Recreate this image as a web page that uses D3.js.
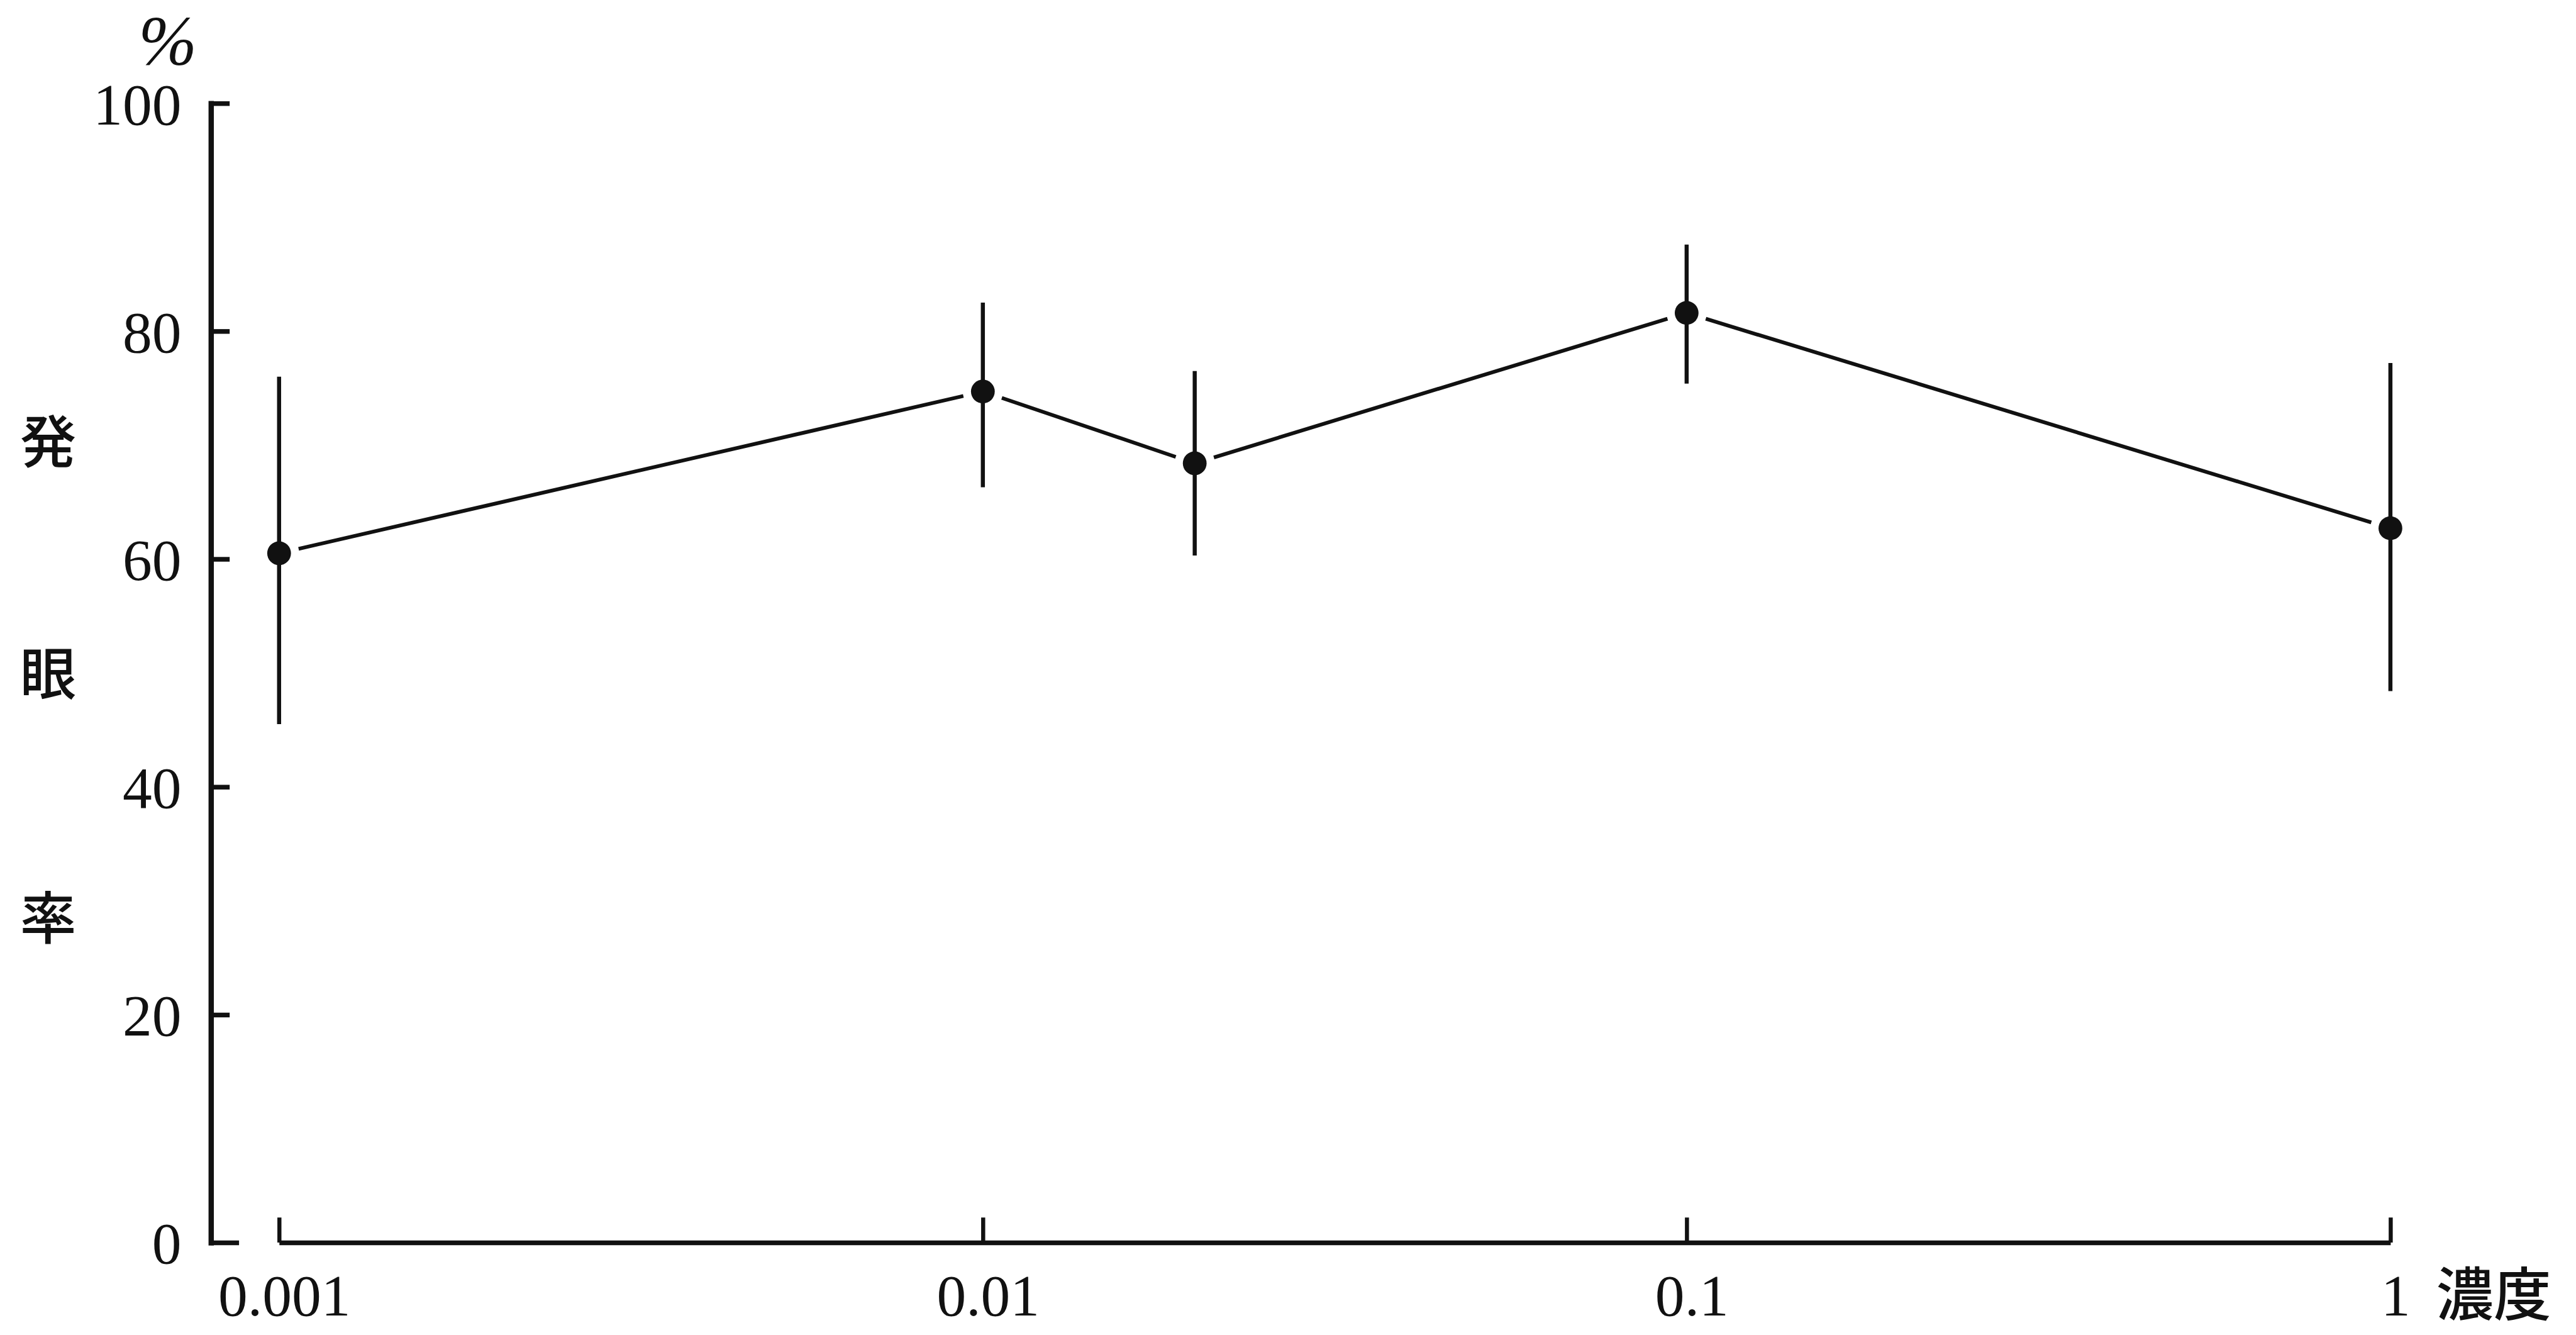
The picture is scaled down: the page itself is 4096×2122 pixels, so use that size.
<!DOCTYPE html>
<html>
<head>
<meta charset="utf-8">
<script src="https://cdn.jsdelivr.net/npm/d3@7"></script>
<style>
  html, body { margin: 0; padding: 0; background: #ffffff; }
  svg { display: block; }
</style>
</head>
<body>
<script>
// ---- Data ----
const concentrations = [0.001, 0.01, 0.02, 0.1, 1];
const rateMean = [60.5, 74.7, 68.4, 81.6, 62.7];
const rateHigh = [76.0, 82.5, 76.5, 87.6, 77.2];
const rateLow  = [45.5, 66.3, 60.3, 75.4, 48.4];

const xTickValues = [0.001, 0.01, 0.1, 1];
const xTickLabels = ["0.001", "0.01", "0.1", "1"];
const yTickValues = [0, 20, 40, 60, 80, 100];
const yTitleChars = ["発", "眼", "率"];
const xTitle = "濃度";
const yUnit = "%";

// ---- Layout (reference pixel space, scaled by 0.995) ----
const W = 4096, H = 2122, S = 0.995;
const serif = "'Liberation Serif', 'Times New Roman', serif";
const cjk = "'Noto Sans CJK JP', 'Noto Sans CJK SC', sans-serif";

const svg = d3.select("body").append("svg")
  .attr("width", W).attr("height", H)
  .attr("viewBox", `0 0 ${W} ${H}`);
svg.append("rect").attr("width", W).attr("height", H).attr("fill", "#ffffff");

const g = svg.append("g").attr("transform", `scale(${S})`);

const x = d3.scaleLog().domain([0.001, 1]).range([446, 3820]);
const y = d3.scaleLinear().domain([0, 100]).range([1985, 165]);
const axisX0 = 337;

// Y axis (ticks point inward)
const yAxis = d3.axisLeft(y)
  .tickValues(yTickValues)
  .tickFormat(d3.format("d"))
  .tickSizeInner(-30)
  .tickSizeOuter(0)
  .tickPadding(47);

const gy = g.append("g").attr("transform", `translate(${axisX0},0)`).call(yAxis);
gy.select(".domain").attr("stroke", "#111").attr("stroke-width", 8.5).attr("stroke-linecap", "square");
gy.selectAll(".tick line").attr("stroke", "#111").attr("stroke-width", 7.5)
  .attr("x2", d => d === 0 ? 45 : 30);
gy.selectAll(".tick text")
  .attr("font-family", serif).attr("font-size", 94).attr("fill", "#111")
  .attr("dy", null).attr("y", 33);

// X axis (ticks point up), separate from y axis
const xAxis = d3.axisBottom(x)
  .tickValues(xTickValues)
  .tickFormat((d, i) => xTickLabels[i])
  .tickSizeInner(-40)
  .tickSizeOuter(0)
  .tickPadding(50);

const gx = g.append("g").attr("transform", `translate(0,${y(0)})`).call(xAxis);
gx.select(".domain").attr("stroke", "#111").attr("stroke-width", 7.5);
gx.selectAll(".tick line").attr("stroke", "#111").attr("stroke-width", 6.5);
gx.selectAll(".tick text")
  .attr("font-family", serif).attr("font-size", 94).attr("fill", "#111")
  .attr("dx", 8);

// Axis titles
g.append("text")
  .attr("x", 3893).attr("y", 2102)
  .attr("font-family", cjk).attr("font-weight", 500).attr("font-size", 92).attr("fill", "#111")
  .text(xTitle);

g.append("text")
  .attr("x", 268).attr("y", 104)
  .attr("text-anchor", "middle")
  .attr("font-family", serif).attr("font-style", "italic").attr("font-size", 112).attr("fill", "#111")
  .text(yUnit);

const yTitleCentres = [705, 1076, 1465];
g.append("g").selectAll("text")
  .data(yTitleChars)
  .join("text")
  .attr("x", 77)
  .attr("y", (d, i) => yTitleCentres[i] + 34)
  .attr("text-anchor", "middle")
  .attr("font-family", cjk).attr("font-weight", 500).attr("font-size", 90).attr("fill", "#111")
  .text(d => d);

// ---- Series ----
const pts = concentrations.map((c, i) => ({
  c, m: rateMean[i], hi: rateHigh[i], lo: rateLow[i]
}));

// connecting segments, with a small gap around each marker
const gap = 32;
const segs = d3.pairs(pts).map(([a, b]) => {
  const x1 = x(a.c), y1 = y(a.m), x2 = x(b.c), y2 = y(b.m);
  const len = Math.hypot(x2 - x1, y2 - y1);
  const ux = (x2 - x1) / len, uy = (y2 - y1) / len;
  return { x1: x1 + ux * gap, y1: y1 + uy * gap, x2: x2 - ux * gap, y2: y2 - uy * gap };
});
g.append("g").selectAll("line")
  .data(segs)
  .join("line")
  .attr("x1", d => d.x1).attr("y1", d => d.y1)
  .attr("x2", d => d.x2).attr("y2", d => d.y2)
  .attr("stroke", "#111").attr("stroke-width", 6);

// error bars
g.append("g").selectAll("line")
  .data(pts)
  .join("line")
  .attr("x1", d => x(d.c)).attr("x2", d => x(d.c))
  .attr("y1", d => y(d.hi)).attr("y2", d => y(d.lo))
  .attr("stroke", "#111").attr("stroke-width", 6.5);

// markers
g.append("g").selectAll("circle")
  .data(pts)
  .join("circle")
  .attr("cx", d => x(d.c)).attr("cy", d => y(d.m))
  .attr("r", 19)
  .attr("fill", "#111");
</script>
</body>
</html>
